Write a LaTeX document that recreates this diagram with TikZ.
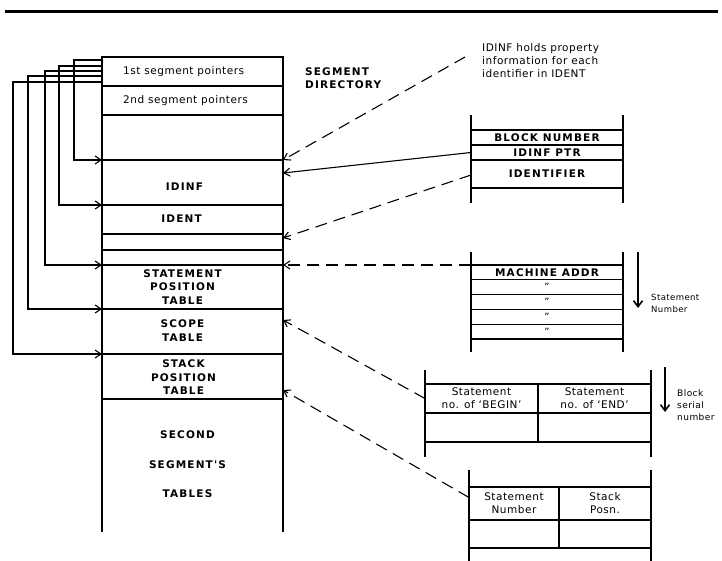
\documentclass[tikz,border=0pt]{standalone}
\usepackage{fontspec}
\setmainfont{DejaVu Sans}[LetterSpace=5]
\newfontfamily\capfont{DejaVu Sans}[LetterSpace=11, UprightFont=*-Bold]
\usetikzlibrary{arrows.meta,positioning}

\begin{document}
\begin{tikzpicture}[
  x=1pt, y=-1pt,
  txt/.style={font=\fontsize{10.5}{13}\selectfont, inner sep=0pt, align=center},
  captxt/.style={font=\capfont\fontsize{10.5}{13.5}\selectfont, inner sep=0pt, align=center},
  sidetxt/.style={font=\fontsize{8.5}{12}\selectfont, inner sep=0pt, align=left, anchor=west},
  dittotxt/.style={font=\fontsize{10}{10}\selectfont, inner sep=0pt},
  cell/.style={draw, line width=1.3pt, inner sep=0pt, outer sep=0pt, minimum width=181pt},
  row/.style={draw, line width=1.1pt, inner sep=0pt, outer sep=0pt},
  tabline/.style={line width=1.1pt},
  ptr/.style={-{Straight Barb[length=6pt,width=8pt]}, line width=1.1pt},
  dptr/.style={ptr, dash pattern=on 12pt off 7pt},
  dirarr/.style={-{Straight Barb[length=6pt,width=9pt]}, line width=1.6pt},
]
\useasboundingbox (0,0) rectangle (722,561);
\draw[line width=3pt] (5,12) -- (718,12);

% segment directory column
\foreach \nm/\ta/\tb in {cseg1/57/86, cseg2/86/115, cfree/115/160, cidinf/160/205,
    cident/205/234, cgapa/234/250, cgapb/250/265, cstmt/265/309, cscope/309/354, cstack/354/399}
  \node[cell, minimum height={(\tb-\ta)*1pt}] (\nm) at (192.5,{(\ta+\tb)/2}) {};
\node[cell, draw=none, minimum height=133pt] (csecond) at (192.5,465.5) {};
\draw[line width=1.3pt] (csecond.north west) -- (csecond.south west)
  (csecond.north east) -- (csecond.south east);

\node[txt, anchor=west] (tseg1) at ([xshift=21pt]cseg1.west) {1st segment pointers};
\node[txt, anchor=west] (tseg2) at ([xshift=21pt]cseg2.west) {2nd segment pointers};
\node[captxt] (tidinf) at ([shift={(-8pt,-4pt)}]cidinf.center) {IDINF};
\node[captxt] (tident) at ([shift={(-11pt,1pt)}]cident.center) {IDENT};
\node[captxt] (tstmt) at ([xshift=-10pt]cstmt.center) {STATEMENT\\POSITION\\TABLE};
\node[captxt] (tscope) at ([shift={(-10pt,1pt)}]cscope.center) {SCOPE\\TABLE};
\node[captxt] (tstack) at ([shift={(-9pt,-1pt)}]cstack.center) {STACK\\POSITION\\TABLE};
\node[captxt, font=\capfont\fontsize{10.5}{29.5}\selectfont] (tsecond)
  at ([shift={(-5pt,1pt)}]csecond.center) {SECOND\\SEGMENT'S\\TABLES};

\node[captxt, anchor=west, align=left] (tsegdir) at (305,78) {SEGMENT\\DIRECTORY};
\node[txt, anchor=west, align=left] (ninfo) at (482,60.5)
  {IDINF holds property\\information for each\\identifier in IDENT};

% pointers out of the first row
\foreach \dy/\dx/\tgt in {3/28/cidinf, 9/43/cident, 14/57/cstmt, 19/74/cscope, 25/89/cstack}
  \draw[ptr] ([yshift=-\dy*1pt]cseg1.north west) -| ([xshift=-\dx*1pt]\tgt.north west)
    -- (\tgt.north west);

% IDENT entry
\node[row, captxt, minimum width=152pt, minimum height=15pt] (tblock) at (547,137.5) {BLOCK NUMBER};
\node[row, captxt, minimum width=152pt, minimum height=15pt, below=0pt of tblock] (tptr) {IDINF PTR};
\node[row, captxt, minimum width=152pt, minimum height=28pt, below=0pt of tptr] (tidf) {IDENTIFIER};
\draw[tabline] ([yshift=15pt]tblock.north west) -- ([yshift=-15pt]tidf.south west)
  ([yshift=15pt]tblock.north east) -- ([yshift=-15pt]tidf.south east);

% statement position table
\node[row, captxt, minimum width=152pt, minimum height=14.8pt] (tmach) at (547,272.4) {MACHINE ADDR};
\node[row, dittotxt, minimum width=152pt, minimum height=14.8pt, below=0pt of tmach] (tdita) {''};
\node[row, dittotxt, minimum width=152pt, minimum height=14.8pt, below=0pt of tdita] (tditb) {''};
\node[row, dittotxt, minimum width=152pt, minimum height=14.8pt, below=0pt of tditb] (tditc) {''};
\node[row, dittotxt, minimum width=152pt, minimum height=14.8pt, below=0pt of tditc] (tditd) {''};
\draw[tabline] ([yshift=13pt]tmach.north west) -- ([yshift=-13pt]tditd.south west)
  ([yshift=13pt]tmach.north east) -- ([yshift=-13pt]tditd.south east);

\coordinate (snup) at (638,252);
\coordinate (snlow) at (638,308);
\draw[dirarr] (snup) -- (snlow);
\node[sidetxt] (nstnum) at (651,303.5) {Statement\\Number};

% scope table
\node[row, txt, minimum width=113pt, minimum height=29pt] (tbegin) at (481.5,398.5)
  {Statement\\no. of `BEGIN'};
\node[row, txt, minimum width=113pt, minimum height=29pt, right=0pt of tbegin] (tend)
  {Statement\\no. of `END'};
\node[row, minimum width=113pt, minimum height=29pt, below=0pt of tbegin] (tbegintwo) {};
\node[row, minimum width=113pt, minimum height=29pt, below=0pt of tend] (tendtwo) {};
\draw[tabline] ([yshift=14pt]tbegin.north west) -- ([yshift=-15pt]tbegintwo.south west)
  ([yshift=14pt]tend.north east) -- ([yshift=-15pt]tendtwo.south east);

\coordinate (bsup) at (665,367);
\coordinate (bslow) at (665,412);
\draw[dirarr] (bsup) -- (bslow);
\node[sidetxt, font=\fontsize{9}{12}\selectfont] (nblock) at (677,405) {Block\\serial\\number};

% stack position table
\node[row, txt, minimum width=90pt, minimum height=33pt] (tsnum) at (514,503.5)
  {Statement\\Number};
\node[row, txt, minimum width=92pt, minimum height=33pt, right=0pt of tsnum] (tposn)
  {Stack\\Posn.};
\node[row, minimum width=90pt, minimum height=28pt, below=0pt of tsnum] (tsnumtwo) {};
\node[row, minimum width=92pt, minimum height=28pt, below=0pt of tposn] (tposntwo) {};
\draw[tabline] ([yshift=17pt]tsnum.north west) -- ([yshift=-13pt]tsnumtwo.south west)
  ([yshift=17pt]tposn.north east) -- ([yshift=-13pt]tposntwo.south east);

% references back into the directory
\coordinate (nfoot) at (465,57);
\draw[dptr] (nfoot) -- (cidinf.north east);
\draw[ptr] (tptr.west) -- ([yshift=-13pt]cidinf.north east);
\draw[dptr] ([yshift=-1pt]tidf.west) -- ([yshift=-4pt]cgapa.north east);
\draw[dptr] (tmach.north west) -- (cstmt.north east);
\draw[dptr] (tbegin.west) -- ([yshift=-11pt]cscope.north east);
\draw[dptr] ([yshift=6pt]tsnum.west) -- ([yshift=-36pt]cstack.north east);
\end{tikzpicture}
\end{document}
